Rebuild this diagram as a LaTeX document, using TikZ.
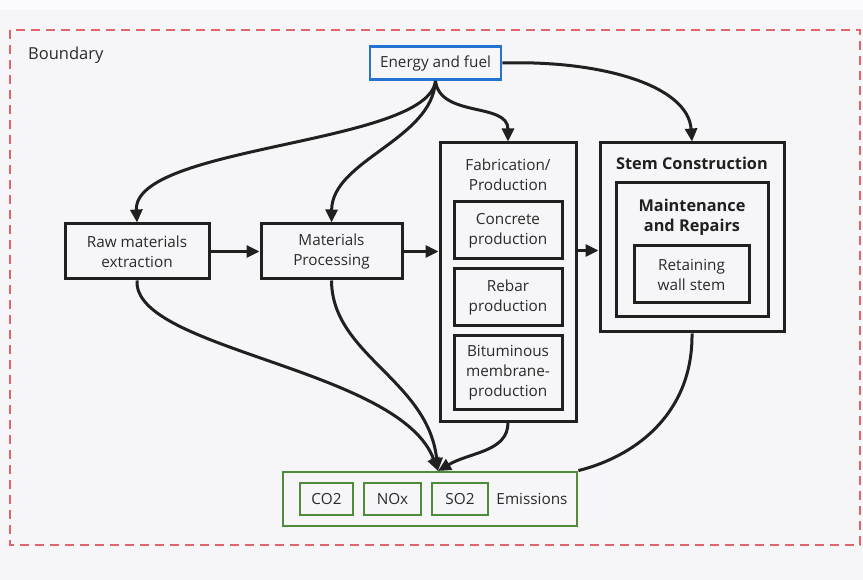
\documentclass[tikz,border=0pt]{standalone}
\usepackage{fontspec}
\setmainfont{Open Sans}
\usetikzlibrary{arrows.meta}
\definecolor{bg}{HTML}{F6F6F9}
\definecolor{ink}{HTML}{202020}
\definecolor{txt}{HTML}{2A2A2A}
\definecolor{bred}{HTML}{E2646A}
\definecolor{bblue}{HTML}{2472D2}
\definecolor{bgreen}{HTML}{4E8B3A}
\tikzset{
  box/.style={draw=ink, line width=3pt, fill=bg, rectangle, inner sep=0pt, align=center, text=txt, font=\fontsize{15.3}{20}\selectfont},
  gbox/.style={draw=bgreen, line width=2.8pt, fill=bg, rectangle, inner sep=0pt, align=center, text=txt, font=\fontsize{15.3}{20}\selectfont},
  lbl/.style={inner sep=0pt, align=center, text=txt, font=\fontsize{15.3}{20}\selectfont},
  blbl/.style={inner sep=0pt, align=center, text=ink, font=\fontsize{16.3}{20}\selectfont\bfseries},
  flow/.style={draw=ink, line width=3pt, -{Triangle[length=13pt,width=12pt]}},
  plainflow/.style={draw=ink, line width=3pt},
}
\begin{document}
\begin{tikzpicture}[x=1pt,y=-1pt]
\fill[bg] (0,0) rectangle (863,580);
\fill[white!60!bg] (0,0) rectangle (863,10);
\useasboundingbox (0,0) rectangle (863,580);
% boundary
\draw[bred, line width=1.6pt, dash pattern=on 9pt off 6pt] (10,30) rectangle (860,545);
\node[lbl, anchor=west, font=\fontsize{16.5}{20}\selectfont] (blabel) at (28,55) {Boundary};

% nodes
\node[box, draw=bblue, line width=2.8pt, minimum width=131pt, minimum height=33pt] (energy) at (435.5,63) {Energy and fuel};
\node[box, minimum width=144pt, minimum height=55pt] (raw) at (137,251.5) {Raw materials\\extraction};
\node[box, minimum width=141pt, minimum height=55pt] (proc) at (331.5,251.5) {Materials\\Processing};

\node[box, minimum width=136pt, minimum height=278pt] (fab) at (508,282) {};
\node[lbl] (fabt) at (508,174.5) {Fabrication/\\Production};
\node[box, minimum width=108pt, minimum height=57pt] (conc) at (508,230.5) {Concrete\\production};
\node[box, minimum width=108pt, minimum height=57pt] (rebar) at (508,297.5) {Rebar\\production};
\node[box, minimum width=108pt, minimum height=73pt] (bitum) at (508,372.5) {Bituminous\\membrane-\\production};

\node[box, minimum width=184pt, minimum height=189pt] (stem) at (692,237.5) {};
\node[blbl] (stemt) at (692,163) {Stem Construction};
\node[box, minimum width=152pt, minimum height=134pt] (maint) at (692,250) {};
\node[blbl] (maintt) at (692,217) {Maintenance\\and Repairs};
\node[box, minimum width=115pt, minimum height=57pt] (ret) at (691.5,274.5) {Retaining\\wall stem};

\node[gbox, minimum width=294pt, minimum height=54pt] (emis) at (430,499) {};
\node[gbox, minimum width=53pt, minimum height=32pt] (co2) at (326.5,499) {CO2};
\node[gbox, minimum width=57pt, minimum height=32pt] (nox) at (392.5,499) {NOx};
\node[gbox, minimum width=56pt, minimum height=32pt] (so2) at (460,499) {SO2};
\node[lbl] (emist) at (532,499) {Emissions};
\coordinate (ein) at (438,471);

% connectors from energy
\draw[flow] (energy.south) .. controls (428,145) and (133,145) .. (raw.north);
\draw[flow] (energy.south) .. controls (432,140) and (332,160) .. (proc.north);
\draw[flow] (energy.south) .. controls (440,118) and (508,102) .. (fab.north);
\draw[flow] (energy.east) .. controls (600,60) and (688,85) .. (stem.north);

% horizontal chain
\draw[flow] (raw.east) -- (proc.west);
\draw[flow] (proc.east) -- (fab.west |- proc.east);
\draw[flow] (fab.east |- 0,250.5) -- (stem.west |- 0,250.5);

% to emissions
\draw[flow] (raw.south) .. controls (133,350) and (400,368) .. (ein);
\draw[flow] (proc.south) .. controls (332,355) and (428,380) .. (ein);
\draw[flow] (fab.south) .. controls (508,452) and (470,452) .. (ein);
\draw[plainflow] (stem.south) .. controls (693,410) and (640,455) .. (emis.north east);
\end{tikzpicture}
\end{document}
